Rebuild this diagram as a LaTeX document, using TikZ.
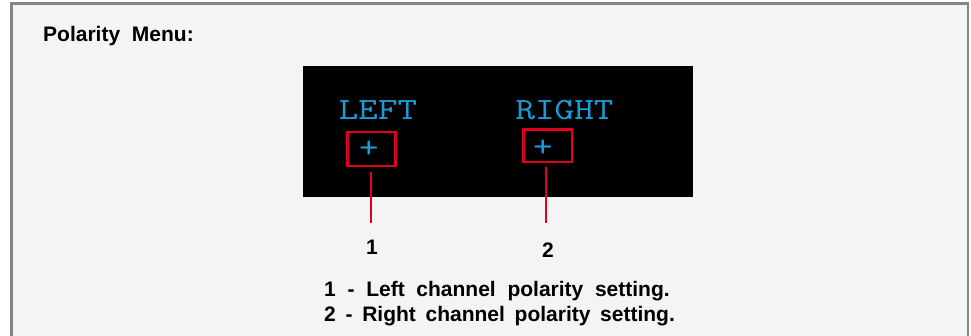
\documentclass[tikz,border=0pt]{standalone}
\usepackage{fontspec}
\setmainfont{Liberation Sans}
\newfontfamily\lcdfont[FakeStretch=1.2]{lmmono10-regular.otf}
\newcommand\wsWide{\spaceskip 11.7pt\relax}
\newcommand\wsNarrow{\spaceskip 9.7pt\relax}
\definecolor{bgc}{HTML}{F4F4F4}
\definecolor{framec}{HTML}{858585}
\definecolor{lcdblue}{HTML}{1A9AD6}
\definecolor{selred}{HTML}{E0001E}
\tikzset{
  txt/.style={inner sep=0pt, font=\bfseries\fontsize{21}{25}\selectfont\wsWide, text=black},
  txtb/.style={inner sep=0pt, font=\bfseries\fontsize{21}{25}\selectfont\wsNarrow, text=black},
  lcd/.style={inner sep=0pt, font=\lcdfont\fontsize{31}{36}\selectfont, text=lcdblue},
  selbox/.style={draw=selred, line width=2.4pt, inner sep=0pt},
  conn/.style={draw=selred, line width=2pt}
}
\begin{document}
\begin{tikzpicture}[x=1pt,y=-1pt]
\useasboundingbox (0,0) rectangle (971,336);
\fill[white] (0,0) rectangle (971,336);
\fill[bgc] (11.5,3.5) rectangle (968,345);
\draw[framec, line width=2.2pt] (11.5,345) -- (11.5,3.5) -- (968,3.5) -- (968,345);

\node[txt, anchor=base west] (title) at (43,41.7) {Polarity Menu:};

\node[fill=black, minimum width=390pt, minimum height=131pt, inner sep=0pt, anchor=north west] (screen) at (303,66) {};

\node[lcd, anchor=base] (left) at (378,120) {LEFT};
\node[lcd, anchor=base] (right) at (564.5,120) {RIGHT};

\node[selbox, minimum width=48pt, minimum height=33.5pt] (lbox) at (371.5,149) {};
\node[selbox, minimum width=48.5pt, minimum height=32.5pt] (rbox) at (547.75,145.75) {};
\node[lcd] (lplus) at (369,149) {+};
\node[lcd] (rplus) at (543,148) {+};

\node[txt] (n1) at (372,247.5) {1};
\node[txt] (n2) at (548,250.5) {2};

\coordinate (e1) at (371,223);
\coordinate (e2) at (546,223);
\draw[conn] (e1 |- lbox.south) ++(0,5) -- (e1);
\draw[conn] (e2 |- rbox.south) ++(0,4) -- (e2);

\node[txt, anchor=base west] (d1) at (324,297) {1 - Left channel polarity setting.};
\node[txtb, anchor=base west] (d2) at (324,322) {2 - Right channel polarity setting.};
\end{tikzpicture}
\end{document}
